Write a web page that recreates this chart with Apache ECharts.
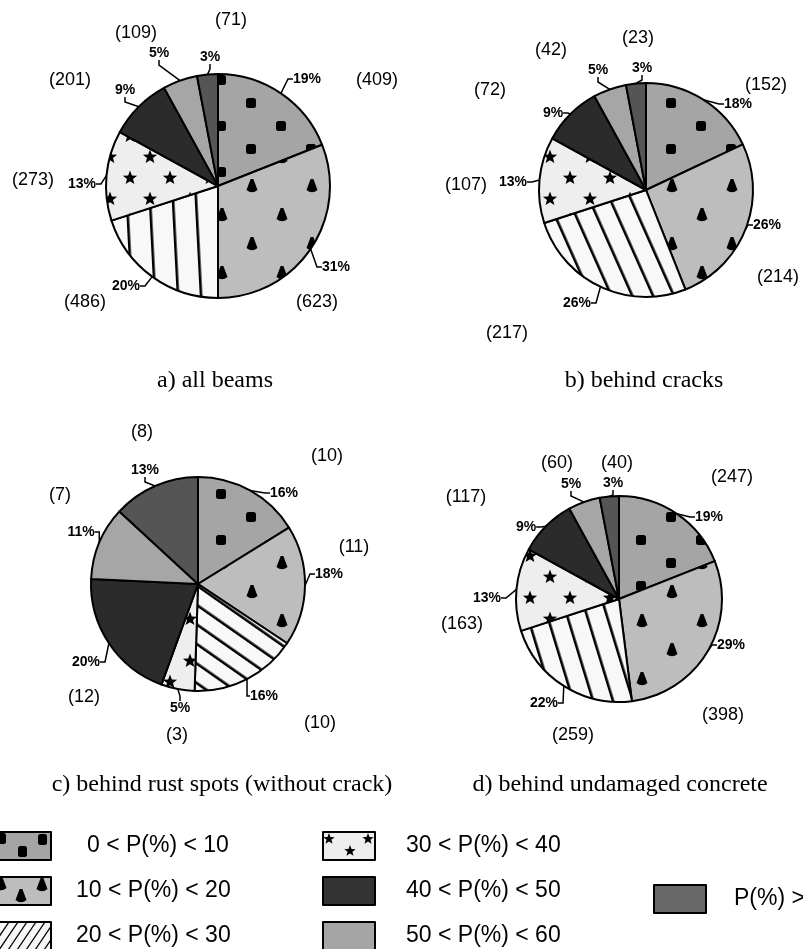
<!DOCTYPE html>
<html><head><meta charset="utf-8">
<script src="https://cdn.jsdelivr.net/npm/echarts@6/dist/echarts.min.js"></script>
<style>html,body{margin:0;padding:0;background:#fff}#c{width:803px;height:949px}</style>
</head><body><div id="c"></div>
<script>
// ---------- data ----------
const categories = ['0 < P(%) < 10','10 < P(%) < 20','20 < P(%) < 30','30 < P(%) < 40','40 < P(%) < 50','50 < P(%) < 60','P(%) > 60'];
const pctA = [19,31,20,13,9,5,3];
const cntA = [409,623,486,273,201,109,71];
const pctB = [18,26,26,13,9,5,3];
const cntB = [152,214,217,107,72,42,23];
const pctC = [16,18,16,5,20,11,13];
const cntC = [10,11,10,3,12,7,8];
const pctD = [19,29,22,13,9,5,3];
const cntD = [247,398,259,163,117,60,40];
const titles = ['a) all beams','b) behind cracks','c) behind rust spots (without crack)','d) behind undamaged concrete'];

// ---------- layout / style ----------
const pieLayout = [
  {center:[218,186], r:112, stripeRot:-3, stripeGap:23, title:[215,381],
   pctOff:[[89,-107],[118,81],[-92,100],[-136,-2],[-93,-96],[-59,-133],[-8,-129]],
   cntOff:[[159,-106],[99,116],[-133,116],[-185,-6],[-148,-106],[-82,-153],[13,-166]]},
  {center:[646,190], r:107, stripeRot:-24, stripeGap:19, title:[644,381],
   pctOff:[[92,-86],[121,35],[-69,113],[-133,-8],[-93,-77],[-48,-120],[-4,-122]],
   cntOff:[[120,-105],[132,87],[-139,143],[-180,-5],[-156,-100],[-95,-140],[-8,-152]]},
  {center:[198,584], r:107, stripeRot:-55, stripeGap:16, title:[222,785],
   pctOff:[[86,-91],[131,-10],[66,112],[-18,124],[-112,78],[-117,-52],[-53,-114]],
   cntOff:[[129,-128],[156,-37],[122,139],[-21,151],[-114,113],[-138,-89],[-56,-152]]},
  {center:[619,599], r:103, stripeRot:-17, stripeGap:19, title:[620,785],
   pctOff:[[90,-82],[112,46],[-75,104],[-132,-1],[-93,-72],[-48,-115],[-6,-116]],
   cntOff:[[113,-122],[104,116],[-46,136],[-157,25],[-153,-102],[-62,-136],[-2,-136]]}
];
const pcts = [pctA,pctB,pctC,pctD];
const cnts = [cntA,cntB,cntC,cntD];

function tile(w,h,bg,draw){const c=document.createElement('canvas');c.width=w;c.height=h;const g=c.getContext('2d');g.fillStyle=bg;g.fillRect(0,0,w,h);g.fillStyle='#000';g.strokeStyle='#000';if(draw)draw(g);return c;}
function rr(g,x,y,w,h,r){g.beginPath();g.moveTo(x+r,y);g.arcTo(x+w,y,x+w,y+h,r);g.arcTo(x+w,y+h,x,y+h,r);g.arcTo(x,y+h,x,y,r);g.arcTo(x,y,x+w,y,r);g.closePath();g.fill();}
function cone(g,x,y){g.beginPath();g.moveTo(x-1.4,y-7);g.lineTo(x+1.4,y-7);g.lineTo(x+5.5,y+4);g.quadraticCurveTo(x,y+8.5,x-5.5,y+4);g.closePath();g.fill();}
function star(g,x,y,R){g.beginPath();for(let i=0;i<10;i++){const a=-Math.PI/2+i*Math.PI/5;const q=i%2?R*0.42:R;g.lineTo(x+q*Math.cos(a),y+q*Math.sin(a));}g.closePath();g.fill();}

const COL = {c0:'#a5a5a5', c1:'#bdbdbd', c2:'#f8f8f8', c3:'#eeeeee', c4:'#2b2b2b', c5:'#a6a6a6', c6:'#555555'};
const patSquares = {image: tile(60,46,COL.c0,g=>{rr(g,6,6,10,10,2.5);rr(g,36,29,10,10,2.5);}), repeat:'repeat'};
const patCones = {image: tile(60,58,COL.c1,g=>{cone(g,12,12);cone(g,42,41);}), repeat:'repeat'};
const patStars = {image: tile(40,42,COL.c3,g=>{star(g,10,10,7.5);star(g,30,31,7.5);}), repeat:'repeat'};
function patStripes(gap,rotDeg){
  return {image: tile(gap,4,COL.c2,g=>{g.fillRect(0,0,2.6,4);}), repeat:'repeat', rotation: rotDeg*Math.PI/180};
}
function fillsFor(L){
  return [patSquares, patCones, patStripes(L.stripeGap,L.stripeRot), patStars, COL.c4, COL.c5, COL.c6];
}

const legendFills = [
  {image: tile(52,28,COL.c0,g=>{rr(g,-2,1,9,11,2.5);rr(g,19,14,9,11,2.5);rr(g,39,2,9,11,2.5);}), repeat:'no-repeat'},
  {image: tile(52,28,COL.c1,g=>{cone(g,2,7);cone(g,22,19);cone(g,43,8);}), repeat:'no-repeat'},
  {image: tile(52,28,COL.c2,g=>{g.lineWidth=1.3;for(let k=-4;k<9;k++){g.beginPath();g.moveTo(k*9,28);g.lineTo(k*9+19,0);g.stroke();}}), repeat:'no-repeat'},
  {image: tile(52,28,COL.c3,g=>{star(g,6,7,6);star(g,27,19,6);star(g,45,7,6);}), repeat:'no-repeat'},
  '#333333', '#a5a5a5', '#686868'
];

const series = [];
pieLayout.forEach((L,i)=>{
  const fills = fillsFor(L);
  const pct = pcts[i];
  series.push({type:'pie', name:'pct'+i, center:L.center, radius:L.r, startAngle:90, clockwise:true, silent:true,
    avoidLabelOverlap:false, emphasis:{disabled:true}, animation:false,
    data: pct.map((v,k)=>({name:categories[k], value:v, itemStyle:{color:fills[k]}})),
    itemStyle:{borderColor:'#000', borderWidth:2},
    label:{show:true, position:'outside', formatter:'{c}%', fontFamily:'Liberation Sans', fontWeight:'bold', fontSize:14, color:'#000'},
    labelLine:{show:true, length:6, length2:5, lineStyle:{color:'#000', width:1.5}},
    labelLayout: p => ({x:L.center[0]+L.pctOff[p.dataIndex][0], y:L.center[1]+L.pctOff[p.dataIndex][1], align:'center', verticalAlign:'middle'})
  });
});
pieLayout.forEach((L,i)=>{
  const pct = pcts[i], cnt = cnts[i];
  series.push({type:'pie', name:'cnt'+i, center:L.center, radius:L.r, startAngle:90, clockwise:true, silent:true,
    avoidLabelOverlap:false, emphasis:{disabled:true}, animation:false, z:1,
    data: pct.map((v,k)=>({name:'n'+k, value:v})),
    itemStyle:{color:'rgba(0,0,0,0)', borderWidth:0},
    label:{show:true, position:'outside', formatter: p => '(' + cnt[p.dataIndex] + ')', fontFamily:'Liberation Sans', fontSize:18, color:'#000'},
    labelLine:{show:false},
    labelLayout: p => ({x:L.center[0]+L.cntOff[p.dataIndex][0], y:L.center[1]+L.cntOff[p.dataIndex][1], align:'center', verticalAlign:'middle'})
  });
});

function legendData(idx, pads){
  return idx.map((k,j)=>({name:categories[k], itemStyle:{color:legendFills[k], borderColor:'#000', borderWidth:2},
    textStyle:{padding:[0,0,0,pads[j]]}}));
}
const legendBase = {orient:'vertical', selectedMode:false, itemWidth:52, itemHeight:28, itemGap:15, padding:0, icon:'rect',
  width:300, height:300, textStyle:{fontFamily:'Liberation Sans', fontSize:23, color:'#000'}};

const option = {
  backgroundColor:'#fff',
  animation:false,
  legend:[
    Object.assign({}, legendBase, {left:-2, top:831, data:legendData([0,1,2],[31,20,20])}),
    Object.assign({}, legendBase, {left:322, top:831, data:legendData([3,4,5],[26,26,26])}),
    Object.assign({}, legendBase, {left:653, top:884, data:legendData([6],[23])})
  ],
  graphic: titles.map((t,i)=>({type:'text', x:pieLayout[i].title[0], y:pieLayout[i].title[1], silent:true,
    style:{text:t, fontFamily:'Liberation Serif', fontSize:24, fill:'#000', align:'center', verticalAlign:'middle'}})),
  series
};
const chart = echarts.init(document.getElementById('c'), null, {renderer:'canvas'});
chart.setOption(option);
</script></body></html>
